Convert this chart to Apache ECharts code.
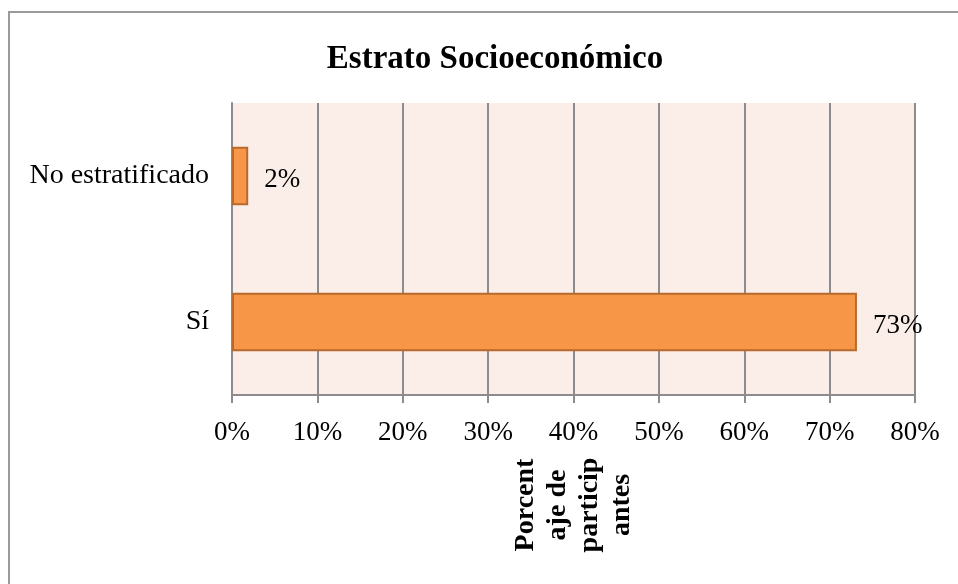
<!DOCTYPE html>
<html>
<head>
<meta charset="utf-8">
<script src="https://cdn.jsdelivr.net/npm/echarts@6/dist/echarts.min.js"></script>
<style>
  html, body { margin: 0; padding: 0; background: #ffffff; }
  #chart { width: 958px; height: 584px; }
</style>
</head>
<body>
<div id="chart"></div>
<script>
const titleText = 'Estrato Socioeconómico';
const categories = ['Sí', 'No estratificado'];
const values = [73.2, 1.9];
const axisTicks = { min: 0, max: 80, interval: 10 };
const axisName = 'Porcent\naje de\nparticip\nantes';

const serif = '"Liberation Serif", "DejaVu Serif", serif';
const gridColor = '#8c8c8c';

const chart = echarts.init(document.getElementById('chart'), null, { renderer: 'canvas' });
chart.setOption({
  backgroundColor: '#ffffff',
  animation: false,
  title: {
    text: titleText,
    left: 490,
    textAlign: 'center',
    top: 38,
    textStyle: { fontFamily: serif, fontWeight: 'bold', fontSize: 33, color: '#000' }
  },
  graphic: [{
    type: 'rect',
    shape: { x: 9, y: 12, width: 1000, height: 700 },
    style: { fill: 'none', stroke: '#9a9a9a', lineWidth: 2 },
    silent: true,
    z: -10
  }],
  grid: {
    left: 232, right: 43, top: 103, bottom: 189,
    show: true, backgroundColor: '#fbeee9', borderWidth: 0
  },
  xAxis: {
    type: 'value',
    min: axisTicks.min, max: axisTicks.max, interval: axisTicks.interval,
    name: axisName,
    nameLocation: 'middle',
    nameRotate: 90,
    nameGap: 110,
    nameTextStyle: {
      fontFamily: serif, fontWeight: 'bold', fontSize: 28, color: '#000',
      lineHeight: 32, align: 'center', verticalAlign: 'middle'
    },
    axisLine: { show: true, lineStyle: { color: gridColor, width: 2 } },
    axisTick: { show: true, length: 8, lineStyle: { color: gridColor, width: 2 } },
    axisLabel: {
      formatter: '{value}%', fontFamily: serif, fontSize: 27, color: '#000', margin: 24
    },
    splitLine: { show: true, lineStyle: { color: gridColor, width: 2 } }
  },
  yAxis: {
    type: 'category',
    data: categories,
    axisLine: { show: true, lineStyle: { color: gridColor, width: 2 } },
    axisTick: { show: false },
    axisLabel: { fontFamily: serif, fontSize: 28, color: '#000', margin: 23, padding: [8, 0, 0, 0] },
    splitLine: { show: false }
  },
  series: [{
    type: 'bar',
    data: values,
    barCategoryGap: '60%',
    itemStyle: { color: '#f79646', borderColor: '#b8692e', borderWidth: 2 },
    label: {
      show: true, position: 'right', distance: 16, offset: [0, 4],
      formatter: p => Math.round(p.value) + '%',
      fontFamily: serif, fontSize: 27, color: '#000'
    }
  }]
});
</script>
</body>
</html>
